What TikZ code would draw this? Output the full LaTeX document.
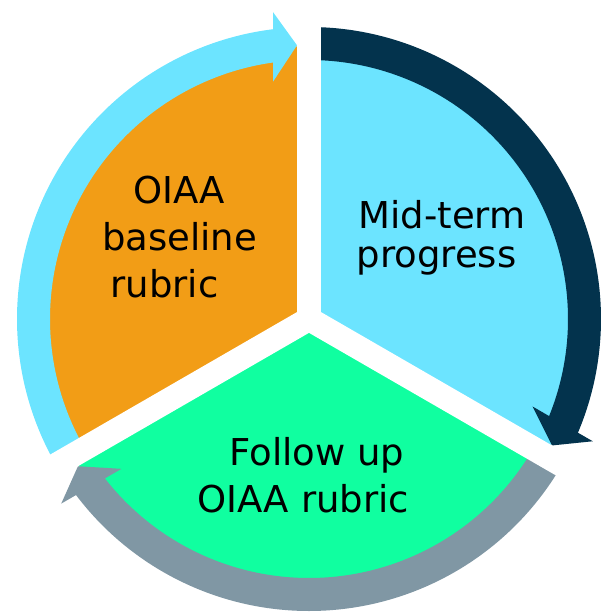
\documentclass[tikz,border=0pt]{standalone}
\usepackage{fontspec}
\setmainfont{DejaVu Sans}
\usepackage{tikz}

\definecolor{baseorange}{RGB}{242,157,22}
\definecolor{midblue}{RGB}{108,228,255}
\definecolor{followgreen}{RGB}{16,255,160}
\definecolor{arrownavy}{RGB}{3,51,77}
\definecolor{arrowgrey}{RGB}{128,151,164}

\begin{document}
\begin{tikzpicture}
		[x=1pt,y=1pt,every node/.style={font=\fontsize{37}{47}\selectfont,align=center,text=black},gap/.style={draw=white,line width=24pt}]
		\useasboundingbox (-309,-293) rectangle (294,319);
		
		% the three parts of the cycle
		\fill[baseorange] (0,0) -- (90:273) arc[start angle=90,end angle=210,radius=273] -- cycle;
		\fill[midblue] (0,0) -- (-30:273) arc[start angle=-30,end angle=90,radius=273] -- cycle;
		\fill[followgreen] (0,0) -- (210:273) arc[start angle=210,end angle=330,radius=273] -- cycle;
		
		% one curved arrow, turned round by 120 each time
		\foreach \turn/\col in {0/midblue,-120/arrownavy,-240/arrowgrey}
		\fill[\col,rotate=\turn] (210:292) arc[start angle=210,end angle=97.08,radius=292] -- (-36,306.9) -- (-12,273.7) -- (-36,237.3) -- (97.99:259) arc[start angle=97.99,end angle=210,radius=259] -- cycle;
		
		\foreach \a in {90,210,330}
		\draw[gap] (0,0) -- (\a:320);
		
		\node (base) at (-129.5,81.7) {OIAA\\baseline\\rubric\hspace*{30pt}};
		\node (mid) at (127.5,81.2) {\hspace*{11pt}Mid-term\\[-8pt]progress};
		\node (follow) at (-5.7,-156.5) {\hspace*{27pt}Follow up\\OIAA rubric};
		\end{tikzpicture}
\end{document}
